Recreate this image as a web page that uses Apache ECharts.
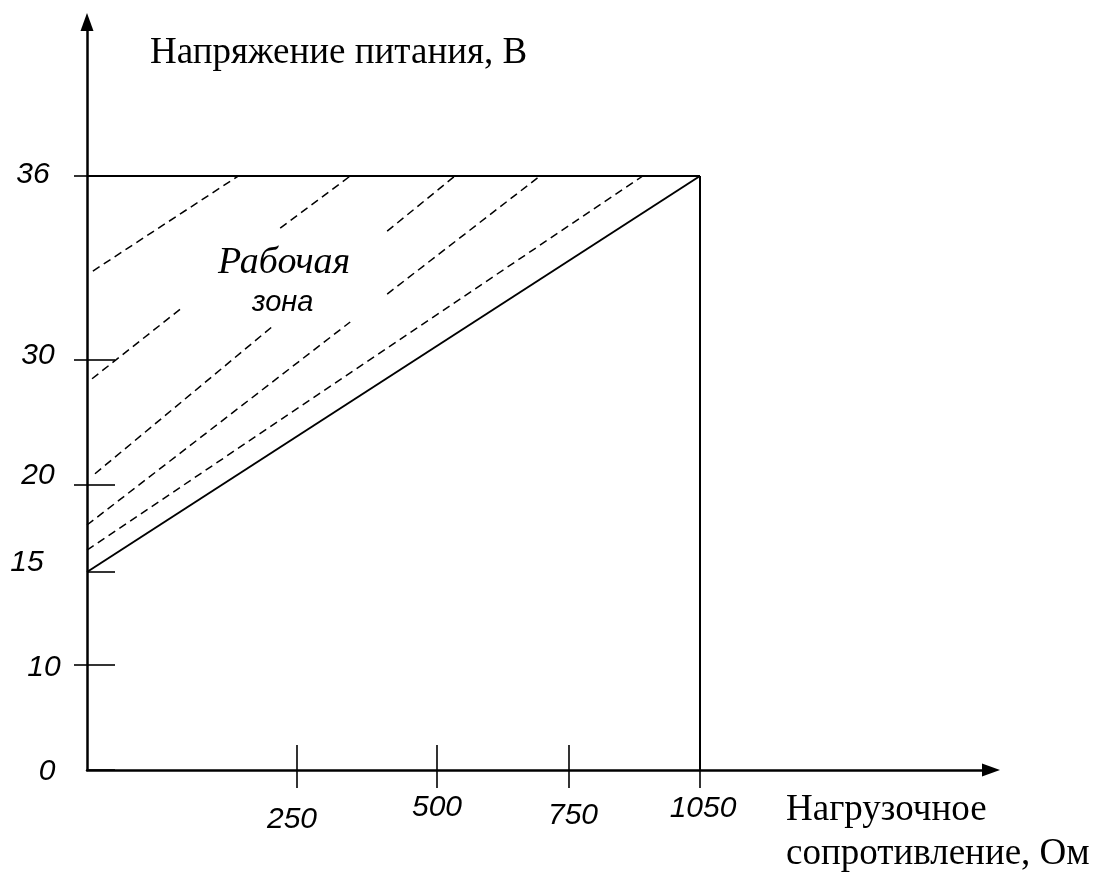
<!DOCTYPE html>
<html><head><meta charset="utf-8">
<script src="https://cdn.jsdelivr.net/npm/echarts@6/dist/echarts.min.js"></script>
<style>html,body{margin:0;padding:0;background:#fff}#c{width:1098px;height:882px}</style>
</head><body><div id="c"></div>
<script>
// ---------- DATA (Ohm, Volt) ----------
const resistanceTicks = [250, 500, 750, 1050];
const voltageTicks = [0, 10, 15, 20, 30, 36];
const lowerBoundary = [[0, 15], [1050, 36]];
const upperBoundary = [[0, 36], [1050, 36]];
const rightBoundary = [[1050, 36], [1050, 0]];
const hatch1  = [[7, 32.9], [180, 36]];
const hatch2a = [[6, 28.5], [113, 31.7]];
const hatch2b = [[230, 34.3], [345, 36]];
const hatch3a = [[9.5, 20.9], [221, 31.1]];
const hatch3b = [[411, 34.2], [534, 36]];
const hatch4a = [[0, 17.7], [345, 31.24]];
const hatch4b = [[411, 32.15], [695, 36]];
const hatch5  = [[0, 16.26], [919, 36]];

// ---------- LAYOUT: schematic (non-uniform) axes ----------
// distance of each tick value from the origin along the axis
const X_LAYOUT = [[0, 0], [250, 210], [500, 350], [750, 482], [1050, 613]];
const Y_LAYOUT = [[0, 0], [10, 105], [15, 198], [20, 285], [30, 410], [36, 594]];
// label nudges [dx, dy]
const X_NUDGE = {250: [-5, 8], 500: [0, -4], 750: [4, 4], 1050: [3, -3]};
const Y_NUDGE = {0: [7, 2], 10: [4, 3], 15: [-13, -9], 20: [-2, -9], 30: [-2, -4], 36: [-7, -1]};

function piecewise(anchors, v) {
  for (let i = 1; i < anchors.length; i++) {
    const [a0, b0] = anchors[i - 1], [a1, b1] = anchors[i];
    if (v <= a1 || i === anchors.length - 1) return b0 + (v - a0) * (b1 - b0) / (a1 - a0);
  }
}
const mx = v => piecewise(X_LAYOUT, v);
const my = v => piecewise(Y_LAYOUT, v);
const mapPts = pts => pts.map(([x, y]) => [mx(x), my(y)]);

function nearest(ticks, f, val) {
  let best = ticks[0], d = Infinity;
  ticks.forEach(t => { const dd = Math.abs(f(t) - val); if (dd < d) { d = dd; best = t; } });
  return best;
}
function richFor(ticks, nudge, prefix, font) {
  const r = {};
  ticks.forEach(t => {
    const [dx, dy] = nudge[t] || [0, 0];
    r[prefix + t] = Object.assign({}, font, {
      padding: [Math.max(0, 2 * dy), Math.max(0, -2 * dx), Math.max(0, -2 * dy), Math.max(0, 2 * dx)]
    });
  });
  return r;
}
const tickFont = {fontFamily: 'Liberation Sans, Arial, sans-serif', fontStyle: 'italic', fontSize: 30, color: '#000'};

const xTickPos = resistanceTicks.map(mx);
const yTickPos = voltageTicks.map(my);
const yOuter = voltageTicks.filter(v => v !== 15 && v !== 0).map(my);

const solid = (data, w) => ({type: 'line', data: mapPts(data), symbol: 'none', silent: true,
  lineStyle: {color: '#000', width: w}, xAxisIndex: 0, yAxisIndex: 0});
const dashed = data => ({type: 'line', data: mapPts(data), symbol: 'none', silent: true,
  lineStyle: {color: '#000', width: 1.5, type: [8, 5]}, xAxisIndex: 0, yAxisIndex: 0});

const chart = echarts.init(document.getElementById('c'), null, {renderer: 'canvas'});
chart.setOption({
  animation: false,
  backgroundColor: '#fff',
  grid: {left: 87, top: 22, right: 107, bottom: 112, containLabel: false},
  xAxis: [{
    type: 'value', min: 0, max: 904,
    axisLine: {show: true, onZero: false, lineStyle: {color: '#000', width: 2.5},
      symbol: ['none', 'triangle'], symbolSize: [13, 18]},
    axisTick: {show: true, inside: true, length: 25, customValues: xTickPos, lineStyle: {color: '#000', width: 1.6}},
    axisLabel: {show: true, customValues: xTickPos, margin: 42, align: 'center', verticalAlign: 'middle',
      formatter: v => { const t = nearest(resistanceTicks, mx, v); return '{x' + t + '|' + t + '}'; },
      rich: richFor(resistanceTicks, X_NUDGE, 'x', tickFont)},
    splitLine: {show: false}
  }, {
    type: 'value', min: 0, max: 904, position: 'bottom',
    axisLine: {show: false, onZero: false},
    axisTick: {show: true, inside: false, length: 18, customValues: xTickPos, lineStyle: {color: '#000', width: 1.6}},
    axisLabel: {show: false},
    splitLine: {show: false}
  }],
  yAxis: [{
    type: 'value', min: 0, max: 748,
    axisLine: {show: true, onZero: false, lineStyle: {color: '#000', width: 2.5},
      symbol: ['none', 'triangle'], symbolSize: [13, 18]},
    axisTick: {show: true, inside: true, length: 28, customValues: yTickPos, lineStyle: {color: '#000', width: 1.6}},
    axisLabel: {show: true, customValues: yTickPos, margin: 47, align: 'center', verticalAlign: 'middle',
      formatter: v => { const t = nearest(voltageTicks, my, v); return '{y' + t + '|' + t + '}'; },
      rich: richFor(voltageTicks, Y_NUDGE, 'y', tickFont)},
    splitLine: {show: false}
  }, {
    type: 'value', min: 0, max: 748, position: 'left',
    axisLine: {show: false, onZero: false},
    axisTick: {show: true, inside: false, length: 13, customValues: yOuter, lineStyle: {color: '#000', width: 1.6}},
    axisLabel: {show: false},
    splitLine: {show: false}
  }],
  series: [
    solid(lowerBoundary, 2), solid(upperBoundary, 2), solid(rightBoundary, 2),
    dashed(hatch1), dashed(hatch2a), dashed(hatch2b), dashed(hatch3a), dashed(hatch3b),
    dashed(hatch4a), dashed(hatch4b), dashed(hatch5)
  ],
  graphic: [
    {type: 'text', left: 150, top: 35, style: {text: 'Напряжение питания, В', fill: '#000',
      font: '37px "Liberation Serif", "Times New Roman", serif'}},
    {type: 'text', left: 786, top: 792, style: {text: 'Нагрузочное', fill: '#000',
      font: '37px "Liberation Serif", "Times New Roman", serif'}},
    {type: 'text', left: 786, top: 836, style: {text: 'сопротивление, Ом', fill: '#000',
      font: '37px "Liberation Serif", "Times New Roman", serif'}},
    {type: 'text', left: 218, top: 244, style: {text: 'Рабочая', fill: '#000',
      font: 'italic 38px "Liberation Serif", "Times New Roman", serif'}},
    {type: 'text', left: 252, top: 288, style: {text: 'зона', fill: '#000',
      font: 'italic 29px "Liberation Sans", Arial, sans-serif'}}
  ]
});
</script></body></html>
